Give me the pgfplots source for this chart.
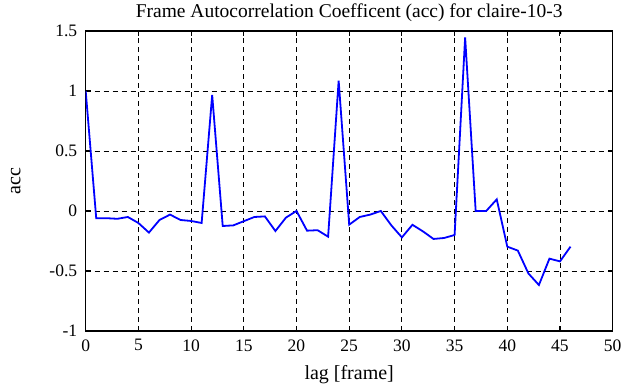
\documentclass[border=0pt]{standalone}
\usepackage{fontspec}
\setmainfont{Liberation Serif}
\usepackage{pgfplots}
\pgfplotsset{compat=1.18}
\begin{document}
\fontsize{16}{19}\selectfont
\begin{tikzpicture}
\path[use as bounding box] (-85.7pt,-56pt) rectangle (544.3pt,331pt);
\begin{axis}[
  at={(0pt,0pt)}, anchor=south west,
  width=527pt, height=300pt, scale only axis,
  xmin=0, xmax=50, ymin=-1, ymax=1.5,
  xtick={0,5,...,50}, ytick={-1,-0.5,0,0.5,1,1.5},
  xticklabels={0,5,10,15,20,25,30,35,40,45,50},
  yticklabels={-1,-0.5,0,0.5,1,1.5},
  tick align=inside, major tick length=5pt,
  tick style={black, line width=1pt},
  axis line style={line width=1.4pt},
  grid=major, major grid style={black, dashed, line width=0.8pt, dash pattern=on 5pt off 4pt},
  ticklabel style={font=\fontsize{17.5}{20}\selectfont},
  xticklabel style={yshift=-3pt},
  yticklabel style={xshift=-3pt},
  label style={font=\fontsize{20}{23}\selectfont},
  xlabel={lag [frame]}, ylabel={acc},
  xlabel style={yshift=-3pt},
  ylabel style={yshift=18pt},
  title={Frame Autocorrelation Coefficent (acc) for claire-10-3},
  title style={font=\fontsize{19.5}{22}\selectfont, yshift=-2pt},
]
\addplot[blue, line width=1.8pt, mark=none] coordinates {
(0,1.0) (1,-0.061) (2,-0.06) (3,-0.065) (4,-0.05) (5,-0.10) (6,-0.18) (7,-0.075)
(8,-0.03) (9,-0.075) (10,-0.083) (11,-0.10) (12,0.967) (13,-0.125) (14,-0.12)
(15,-0.085) (16,-0.05) (17,-0.045) (18,-0.167) (19,-0.055) (20,0.0) (21,-0.164)
(22,-0.16) (23,-0.214) (24,1.086) (25,-0.114) (26,-0.05) (27,-0.03) (28,0.0)
(29,-0.12) (30,-0.22) (31,-0.115) (32,-0.17) (33,-0.233) (34,-0.225) (35,-0.2)
(36,1.447) (37,0.0) (38,0.0) (39,0.097) (40,-0.297) (41,-0.33) (42,-0.52)
(43,-0.617) (44,-0.397) (45,-0.42) (46,-0.297)
};
\end{axis}
\end{tikzpicture}
\end{document}
